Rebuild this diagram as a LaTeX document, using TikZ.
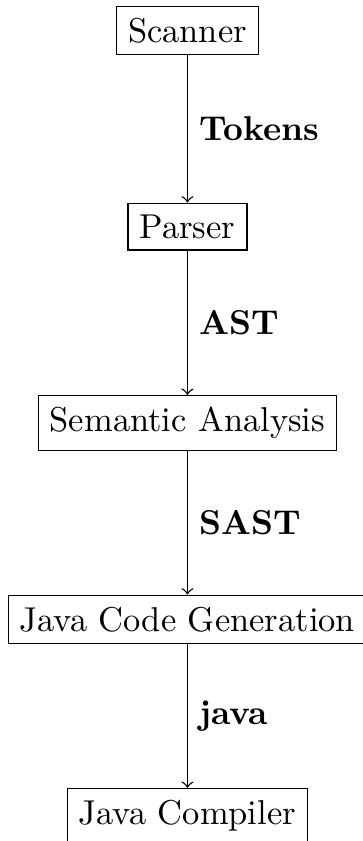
\documentclass[tikz,border=0pt]{standalone}
\usetikzlibrary{positioning}
\tikzset{
  stage/.style={draw, rectangle, inner sep=0.333em},
  flow/.style={->}
}
\begin{document}
\begin{tikzpicture}
    \useasboundingbox (-54.35pt,8.8pt) rectangle (50.85pt,-235pt);
    % compiler pipeline, one stage every 2cm
    \node[stage] (scanner) at (0,0) {Scanner};
    \node[stage] (parser) at (0,-2) {Parser};
    \node[stage] (semantic) at (0,-4) {Semantic Analysis};
    \node[stage] (codegen) at (0,-6) {Java Code Generation};
    \node[stage] (javac) at (0,-8) {Java Compiler};
    \draw[flow] (scanner) -- node[right] {\textbf{Tokens}} (parser);
    \draw[flow] (parser) -- node[right] {\textbf{AST}} (semantic);
    \draw[flow] (semantic) -- node[right] {\textbf{SAST}} (codegen);
    \draw[flow] (codegen) -- node[right] {\textbf{java}} (javac);
\end{tikzpicture}
\end{document}
